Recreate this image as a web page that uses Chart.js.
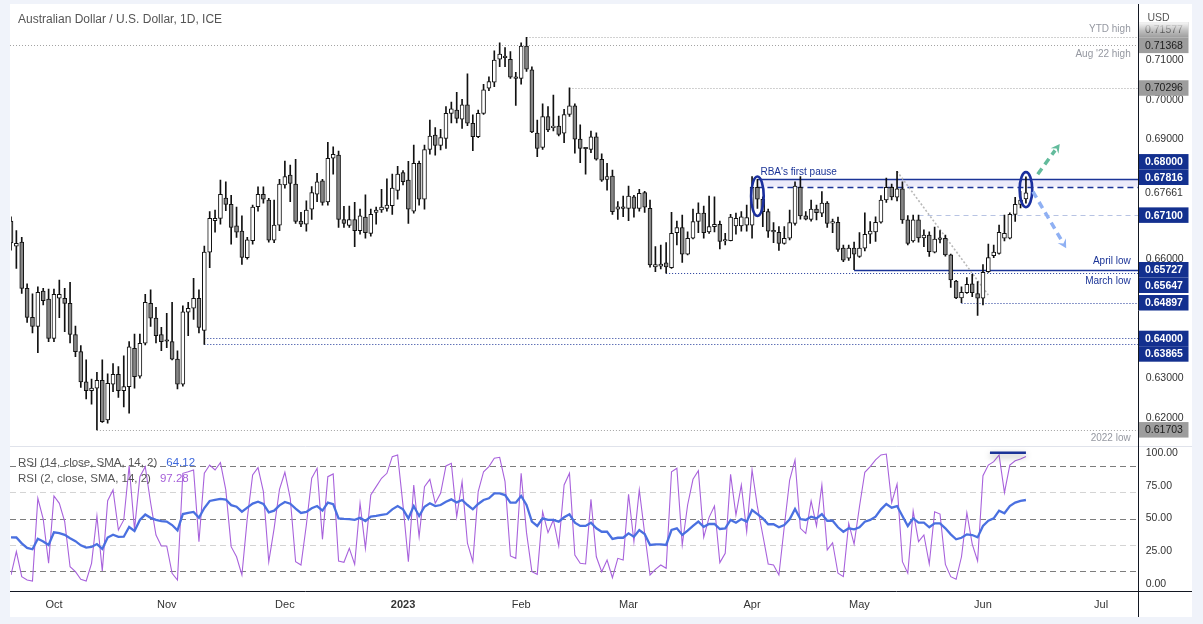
<!DOCTYPE html>
<html>
<head>
<meta charset="utf-8">
<script src="https://cdn.jsdelivr.net/npm/chart.js@4.4.1/dist/chart.umd.min.js"></script>
<style>
html,body{margin:0;padding:0;background:#f0f3fa;}
#wrap{position:relative;width:1203px;height:624px;}
canvas{display:block;}
</style>
</head>
<body>
<div id="wrap"><canvas id="c" width="1203" height="624"></canvas></div>
<script>
// ---------------- DATA ----------------
const openP = [
0.6695,0.6632,0.6642,0.6526,0.6453,0.6430,0.6519,0.6499,0.6400,0.6501,
0.6501,0.6488,0.6410,0.6367,0.6291,0.6269,0.6275,0.6295,0.6195,0.6285,
0.6310,0.6269,0.6279,0.6375,0.6305,0.6388,0.6488,0.6451,0.6410,0.6395,
0.6392,0.6348,0.6285,0.6466,0.6476,0.6501,0.6420,0.6617,0.6696,0.6702,
0.6753,0.6737,0.6683,0.6670,0.6603,0.6646,0.6731,0.6762,0.6748,0.6647,
0.6685,0.6786,0.6811,0.6788,0.6695,0.6687,0.6725,0.6763,0.6796,0.6743,
0.6853,0.6861,0.6699,0.6684,0.6699,0.6671,0.6705,0.6664,0.6717,0.6723,
0.6727,0.6734,0.6772,0.6817,0.6798,0.6720,0.6840,0.6750,0.6875,0.6911,
0.6885,0.6903,0.6966,0.6974,0.6951,0.6987,0.6941,0.6907,0.6966,0.7029,
0.7044,0.7102,0.7110,0.7102,0.7057,0.7054,0.7135,0.7075,0.6916,0.6880,
0.6958,0.6930,0.6934,0.6916,0.6963,0.6985,0.6901,0.6879,0.6875,0.6907,
0.6850,0.6800,0.6808,0.6725,0.6731,0.6727,0.6756,0.6727,0.6767,0.6727,
0.6580,0.6582,0.6590,0.6578,0.6666,0.6679,0.6612,0.6652,0.6694,0.6715,
0.6668,0.6681,0.6687,0.6645,0.6646,0.6683,0.6683,0.6685,0.6685,0.6780,
0.6750,0.6719,0.6670,0.6667,0.6639,0.6652,0.6689,0.6780,0.6708,0.6699,
0.6725,0.6715,0.6740,0.6690,0.6692,0.6627,0.6602,0.6627,0.6606,0.6627,
0.6662,0.6668,0.6692,0.6748,0.6780,0.6755,0.6776,0.6698,0.6645,0.6698,
0.6653,0.6660,0.6617,0.6650,0.6652,0.6610,0.6544,0.6502,0.6515,0.6537,
0.6513,0.6501,0.6568,0.6608,0.6614,0.6652,0.6652,0.6712,0.6737,0.6751];
const highP = [
0.6706,0.6671,0.6654,0.6537,0.6512,0.6530,0.6526,0.6524,0.6524,0.6547,
0.6526,0.6541,0.6431,0.6382,0.6346,0.6298,0.6315,0.6346,0.6311,0.6337,
0.6329,0.6356,0.6392,0.6411,0.6411,0.6511,0.6522,0.6478,0.6428,0.6463,
0.6491,0.6369,0.6482,0.6491,0.6551,0.6522,0.6632,0.6719,0.6723,0.6798,
0.6794,0.6760,0.6730,0.6708,0.6654,0.6735,0.6781,0.6781,0.6752,0.6748,
0.6800,0.6846,0.6836,0.6850,0.6717,0.6746,0.6782,0.6815,0.6800,0.6893,
0.6882,0.6871,0.6732,0.6733,0.6742,0.6725,0.6761,0.6725,0.6730,0.6775,
0.6801,0.6813,0.6833,0.6822,0.6845,0.6886,0.6846,0.6886,0.6949,0.6930,
0.6926,0.6983,0.6994,0.7019,0.7001,0.7065,0.6962,0.6974,0.7039,0.7058,
0.7123,0.7143,0.7131,0.7121,0.7069,0.7143,0.7157,0.7083,0.6949,0.6990,
0.6983,0.7012,0.6959,0.6976,0.7030,0.6990,0.6937,0.6880,0.6921,0.6917,
0.6864,0.6840,0.6823,0.6744,0.6758,0.6783,0.6760,0.6775,0.6770,0.6748,
0.6631,0.6635,0.6641,0.6717,0.6695,0.6710,0.6668,0.6725,0.6741,0.6733,
0.6758,0.6756,0.6695,0.6664,0.6712,0.6715,0.6719,0.6735,0.6807,0.6800,
0.6756,0.6725,0.6691,0.6681,0.6681,0.6723,0.6794,0.6807,0.6719,0.6748,
0.6735,0.6769,0.6744,0.6700,0.6705,0.6635,0.6635,0.6642,0.6666,0.6716,
0.6694,0.6706,0.6759,0.6803,0.6788,0.6820,0.6794,0.6709,0.6710,0.6710,
0.6673,0.6668,0.6680,0.6671,0.6660,0.6612,0.6546,0.6530,0.6553,0.6561,
0.6543,0.6586,0.6637,0.6635,0.6685,0.6710,0.6716,0.6755,0.6770,0.6806];
const lowP = [
0.6622,0.6576,0.6513,0.6440,0.6414,0.6364,0.6484,0.6392,0.6392,0.6452,
0.6417,0.6389,0.6354,0.6277,0.6248,0.6235,0.6170,0.6189,0.6187,0.6266,
0.6252,0.6228,0.6212,0.6275,0.6300,0.6384,0.6430,0.6389,0.6369,0.6377,
0.6346,0.6273,0.6280,0.6407,0.6448,0.6414,0.6385,0.6578,0.6667,0.6687,
0.6721,0.6637,0.6654,0.6586,0.6599,0.6637,0.6720,0.6740,0.6642,0.6641,
0.6671,0.6778,0.6744,0.6689,0.6681,0.6670,0.6699,0.6744,0.6735,0.6735,
0.6813,0.6679,0.6679,0.6679,0.6631,0.6662,0.6652,0.6657,0.6687,0.6717,
0.6720,0.6712,0.6750,0.6786,0.6689,0.6715,0.6735,0.6725,0.6863,0.6861,
0.6874,0.6878,0.6942,0.6942,0.6928,0.6935,0.6872,0.6905,0.6963,0.7023,
0.7033,0.7083,0.7083,0.7054,0.6986,0.7039,0.7071,0.6917,0.6857,0.6875,
0.6920,0.6922,0.6909,0.6892,0.6958,0.6866,0.6842,0.6813,0.6867,0.6848,
0.6795,0.6773,0.6712,0.6699,0.6706,0.6696,0.6705,0.6720,0.6717,0.6579,
0.6568,0.6575,0.6564,0.6576,0.6635,0.6591,0.6610,0.6650,0.6666,0.6652,
0.6664,0.6668,0.6625,0.6635,0.6645,0.6662,0.6670,0.6670,0.6652,0.6727,
0.6681,0.6654,0.6641,0.6621,0.6637,0.6648,0.6685,0.6700,0.6698,0.6695,
0.6698,0.6706,0.6679,0.6666,0.6619,0.6593,0.6596,0.6573,0.6604,0.6620,
0.6639,0.6644,0.6690,0.6742,0.6748,0.6746,0.6689,0.6635,0.6642,0.6642,
0.6631,0.6606,0.6615,0.6640,0.6607,0.6528,0.6500,0.6490,0.6513,0.6505,
0.6458,0.6484,0.6566,0.6603,0.6612,0.6645,0.6650,0.6694,0.6728,0.6740];
const closeP = [
0.6640,0.6639,0.6526,0.6453,0.6430,0.6516,0.6495,0.6400,0.6511,0.6511,
0.6488,0.6410,0.6367,0.6291,0.6269,0.6275,0.6295,0.6191,0.6287,0.6310,
0.6269,0.6279,0.6379,0.6304,0.6388,0.6491,0.6451,0.6407,0.6392,0.6393,
0.6348,0.6285,0.6467,0.6476,0.6501,0.6428,0.6617,0.6702,0.6702,0.6762,
0.6737,0.6679,0.6667,0.6604,0.6648,0.6730,0.6762,0.6750,0.6647,0.6685,
0.6788,0.6807,0.6790,0.6694,0.6687,0.6723,0.6767,0.6794,0.6742,0.6853,
0.6863,0.6699,0.6689,0.6699,0.6671,0.6708,0.6666,0.6712,0.6723,0.6730,
0.6735,0.6778,0.6813,0.6794,0.6725,0.6840,0.6750,0.6875,0.6909,0.6885,
0.6905,0.6966,0.6977,0.6953,0.6987,0.6941,0.6907,0.6966,0.7025,0.7046,
0.7100,0.7115,0.7106,0.7057,0.7054,0.7135,0.7077,0.6919,0.6878,0.6958,
0.6924,0.6934,0.6913,0.6963,0.6985,0.6901,0.6878,0.6877,0.6907,0.6851,
0.6798,0.6807,0.6719,0.6731,0.6727,0.6758,0.6727,0.6765,0.6730,0.6585,
0.6586,0.6587,0.6580,0.6664,0.6679,0.6612,0.6652,0.6694,0.6715,0.6666,
0.6681,0.6687,0.6644,0.6647,0.6705,0.6702,0.6706,0.6704,0.6780,0.6750,
0.6719,0.6670,0.6668,0.6639,0.6652,0.6691,0.6783,0.6708,0.6700,0.6725,
0.6716,0.6740,0.6689,0.6693,0.6624,0.6597,0.6627,0.6612,0.6627,0.6662,
0.6670,0.6692,0.6748,0.6780,0.6756,0.6776,0.6698,0.6639,0.6698,0.6653,
0.6660,0.6618,0.6650,0.6649,0.6610,0.6547,0.6502,0.6516,0.6536,0.6515,
0.6501,0.6566,0.6603,0.6617,0.6667,0.6664,0.6712,0.6737,0.6748,0.6766];
const rsi14 = [
35.6,35.5,31,27.5,26.5,34.5,32.5,29.8,39.4,38.8,
37.5,34.9,32.7,29.5,27.8,28.3,30.5,26.8,35.5,37.6,
36,36.1,43.5,40.5,48.9,53,50.5,49,48,47.6,
45,41,53.4,54.3,55,50.6,58,63.4,64.2,65,
64.5,60.2,59,55.2,58.3,61.4,62.8,61.1,54.7,56,
60,62.6,61.3,57.5,54.2,55,57.8,59.5,56,62.1,
61,50.1,49.7,49.5,48.9,50.5,48.1,51.4,52,52.7,
53.4,57,59.5,57,50.1,59.5,51.9,59,61.6,59.5,
60.3,62.8,64.6,62.3,64.1,60.3,57,61.1,64.1,65.4,
69.2,69.2,67.9,62.1,62.1,67.2,60.3,47.6,44.3,50.1,
48.9,48.9,47.6,50.9,53.2,46.8,44.3,44.3,46.8,42.5,
39.9,39.9,34.4,35.3,35.3,38.7,36.1,41.2,38.2,29.8,
30.3,30.3,29.8,41.2,42.5,37.4,40.7,44.3,47.6,43.7,
45.8,45.8,42,42.5,48.9,46.8,49.6,47.6,56.5,53.4,
50.1,45.6,45.6,43.3,45,49.4,57.3,49.6,48.9,51.4,
50.1,53.4,48.3,48.3,43.3,39.9,42.5,41.7,43.3,47.6,
48.9,51.4,57,61.1,58.3,59.5,51.9,44.3,50.1,46.8,
46.8,43.3,46.3,46.3,42.5,37.9,34.1,35.3,37.9,37.4,
35.6,44.3,48.3,50.1,56,54,59.5,62.1,63.4,64.12];
const rsi2 = [
6.9,24.7,5.6,3,2.3,65.4,49.6,15.8,67.2,61.6,
47.6,13.2,9.4,3.6,2.3,15.8,51.9,9.9,63.6,71.8,
41.2,48.9,90.1,41.7,81.9,89.6,62,37.4,29,29,
8.2,3,84.5,85.7,87,32.3,84.5,90.8,87,92.6,
71.8,28.5,20.8,6.9,50.1,83.2,88.8,70.5,17,42.5,
72.3,85.3,65.4,17,14.5,45,80.7,88.3,34.1,81.9,
84,17.6,16.6,27.2,15,61.6,27.2,67.9,74.3,80.7,
84.5,97.2,98.5,60,17,75.6,36.1,74.3,79.9,61.6,
69.2,90.1,92.1,51.4,78.1,31.1,17,70.5,85.7,89.6,
96,96.7,78.1,21.4,19.6,84.5,39.2,9.4,7.4,55.2,
39.2,48.9,29,75.6,84.5,22.1,15.8,15.3,64.6,20.8,
9.4,18.3,4.8,19.6,18.3,68.5,32.3,71.8,38.7,6.9,
11.2,14.5,12,85.7,88.3,29.8,60.3,79.9,86.5,35.6,
50.9,59.5,16.3,23.4,83.7,52.7,75.6,39.9,87,59,
37.4,15.3,14.5,6.9,43.7,79.4,94.7,42.5,38.7,63.4,
44.3,75.6,26,31.5,8.2,5.6,46.3,30.5,59,85.3,
89.6,94.7,98.5,99.2,62.1,76.3,17,8.2,55.7,32.3,
37.4,15.3,55.2,53.4,15,5.6,3.6,20.8,54.4,30.5,
17.6,82.7,90.8,93.4,98.5,69.7,90.8,94.1,95.4,97.28];

// trading-day categories: Sep 21 2022 onward (weekdays), incl. empty future slots to mid-July 2023
const firstDay = '2022-09-21';
const slotCount = 211;
const labels = [];
(function(){ const d = new Date(firstDay + 'T00:00:00Z');
  while (labels.length < slotCount) { const wd = d.getUTCDay(); if (wd !== 0 && wd !== 6) labels.push(d.toISOString().slice(0,10)); d.setUTCDate(d.getUTCDate()+1); } })();

const monthTicks = {'2022-10-03':'Oct','2022-11-01':'Nov','2022-12-01':'Dec','2023-01-02':'2023','2023-02-01':'Feb','2023-03-01':'Mar','2023-04-03':'Apr','2023-05-01':'May','2023-06-01':'Jun','2023-07-03':'Jul'};
const priceTicks = [0.62, 0.63, 0.66, 0.69, 0.70, 0.71];
const rsiTicks = [0, 25, 50, 75, 100];
const rsiLevels = [{v:90,dark:true},{v:70,dark:false},{v:50,dark:true},{v:30,dark:false},{v:10,dark:true}];

// ------------- annotation definitions -------------
const NAVY = '#1b3497';
const levelLines = [
  {v:0.71577, from:96,  color:'#a3a3a3', dash:[1,2], w:1},
  {v:0.71368, from:0,   color:'#a3a3a3', dash:[1,2], w:1},
  {v:0.70296, from:104, color:'#a3a3a3', dash:[1,2], w:1},
  {v:0.67100, from:169, color:'#b7c3e3', dash:[5,4], w:1},
  {v:0.65727, from:157, color:NAVY, dash:[], w:1.4},
  {v:0.65647, from:122, color:NAVY, dash:[1,2], w:1},
  {v:0.64897, from:177, color:NAVY, dash:[1,2], w:1},
  {v:0.64000, from:36,  color:NAVY, dash:[1,2], w:1},
  {v:0.63865, from:36,  color:NAVY, dash:[1,2], w:1},
  {v:0.61703, from:16,  color:'#a3a3a3', dash:[1,2], w:1}
];
const pauseZone = {top:0.68000, bottom:0.67816, from:139};
const trendLine = {i0:165, v0:0.6820, i1:182, v1:0.6509};
const ellipses = [{i:139, top:0.6807, bottom:0.6708}, {i:189, top:0.6818, bottom:0.6730}];
const arrows = [
  {i0:191.2, v0:0.6813, i1:195.3, v1:0.6889, color:'#63bb9c'},
  {i0:190.3, v0:0.6769, i1:196.5, v1:0.6627, color:'#8fb0f3'}
];
const notes = [
  {t:'YTD high', v:0.71577, dy:-8, color:'#9598a1'},
  {t:"Aug '22 high", v:0.71368, dy:9, color:'#9598a1'},
  {t:"RBA's first pause", v:0.68000, dy:-7, color:NAVY, at:139, dx:3},
  {t:'April low', v:0.65727, dy:-8, color:NAVY},
  {t:'March low', v:0.65647, dy:8, color:NAVY},
  {t:'2022 low', v:0.61703, dy:8, color:'#9598a1'}
];
const badges = [
  {v:0.71577, anchor:0.71368, slot:-1, kind:'fade'},
  {v:0.71368, kind:'gray'},
  {v:0.70296, kind:'gray'},
  {v:0.68000, anchor:0.67661, slot:-2, kind:'navy'},
  {v:0.67816, anchor:0.67661, slot:-1, kind:'navy'},
  {v:0.67661, kind:'plain'},
  {v:0.67100, kind:'navy'},
  {v:0.65727, kind:'navy'},
  {v:0.65647, anchor:0.65727, slot:1, kind:'navy'},
  {v:0.64897, kind:'navy'},
  {v:0.64000, kind:'navy'},
  {v:0.63865, anchor:0.64000, slot:1, kind:'navy'},
  {v:0.61703, kind:'gray'}
];
const rsiMark = {i0:182.3, i1:189, v:100.2};

const FONT = "'Liberation Sans', Arial, sans-serif";
Chart.defaults.font.family = FONT;

function zeroPad(s){ s.paddingLeft = 0; s.paddingRight = 0; s.paddingTop = 0; s.paddingBottom = 0; }

const bgPlugin = {
  id:'bg',
  beforeDraw(chart){
    const c = chart.ctx; c.save();
    c.fillStyle = '#f0f3fa'; c.fillRect(0,0,chart.width,chart.height);
    c.fillStyle = '#ffffff'; c.fillRect(10,4,1182,613);
    c.restore();
  }
};

function hline(c, x0, x1, y, color, w, dash){
  c.save(); c.strokeStyle = color; c.lineWidth = w; c.setLineDash(dash);
  const yy = Math.round(y) + 0.5;
  c.beginPath(); c.moveTo(x0, yy); c.lineTo(x1, yy); c.stroke(); c.restore();
}

const underPlugin = {
  id:'under',
  beforeDatasetsDraw(chart){
    const c = chart.ctx, xs = chart.scales.x, ys = chart.scales.y, y2 = chart.scales.y2;
    const right = chart.chartArea.right, left = chart.chartArea.left;
    // pause zone
    const zx = xs.getPixelForValue(pauseZone.from);
    const zt = ys.getPixelForValue(pauseZone.top), zb = ys.getPixelForValue(pauseZone.bottom);
    c.save(); c.fillStyle = 'rgba(120,110,220,0.14)'; c.fillRect(zx, zt, right - zx, zb - zt); c.restore();
    hline(c, zx, right, zt, NAVY, 1.4, []);
    hline(c, zx, right, zb, NAVY, 1.4, [6,4]);
    for (const l of levelLines){
      const x0 = l.from === 0 ? left - 1 : xs.getPixelForValue(l.from);
      hline(c, x0, right, ys.getPixelForValue(l.v), l.color, l.w, l.dash);
    }
    // trend line
    c.save(); c.strokeStyle = '#b9b9b9'; c.lineWidth = 1.6; c.setLineDash([2,2]);
    c.beginPath(); c.moveTo(xs.getPixelForValue(trendLine.i0), ys.getPixelForValue(trendLine.v0));
    c.lineTo(xs.getPixelForValue(trendLine.i1), ys.getPixelForValue(trendLine.v1)); c.stroke(); c.restore();
    // RSI levels
    for (const r of rsiLevels){
      hline(c, left - 1, right, y2.getPixelForValue(r.v), r.dark ? '#7d7d7d' : '#d4d4d4', 1, [6,4]);
    }
  }
};

function arrow(c, x0, y0, x1, y1, color){
  const ang = Math.atan2(y1 - y0, x1 - x0), head = 10;
  const bx = x1 - Math.cos(ang) * head * 0.8, by = y1 - Math.sin(ang) * head * 0.8;
  c.save(); c.strokeStyle = color; c.fillStyle = color; c.lineWidth = 3.5; c.setLineDash([7,5]);
  c.beginPath(); c.moveTo(x0, y0); c.lineTo(bx, by); c.stroke();
  c.setLineDash([]); c.beginPath();
  c.moveTo(x1, y1);
  c.lineTo(x1 - head*Math.cos(ang - 0.5), y1 - head*Math.sin(ang - 0.5));
  c.lineTo(x1 - head*0.55*Math.cos(ang), y1 - head*0.55*Math.sin(ang));
  c.lineTo(x1 - head*Math.cos(ang + 0.5), y1 - head*Math.sin(ang + 0.5));
  c.closePath(); c.fill(); c.restore();
}

const overPlugin = {
  id:'over',
  afterDatasetsDraw(chart){
    const c = chart.ctx, xs = chart.scales.x, ys = chart.scales.y, y2 = chart.scales.y2;
    const right = chart.chartArea.right;
    // ellipses
    for (const e of ellipses){
      const cx = xs.getPixelForValue(e.i), t = ys.getPixelForValue(e.top), b = ys.getPixelForValue(e.bottom);
      c.save(); c.strokeStyle = '#1a2f9e'; c.lineWidth = 2.6; c.beginPath();
      c.ellipse(cx, (t + b) / 2, 6.3, (b - t) / 2, 0, 0, Math.PI * 2); c.stroke(); c.restore();
    }
    for (const a of arrows){
      arrow(c, xs.getPixelForValue(a.i0), ys.getPixelForValue(a.v0), xs.getPixelForValue(a.i1), ys.getPixelForValue(a.v1), a.color);
    }
    // notes
    c.save(); c.font = '10px ' + FONT; c.textBaseline = 'middle';
    for (const n of notes){
      c.fillStyle = n.color;
      const y = ys.getPixelForValue(n.v) + n.dy;
      if (n.at !== undefined){ c.textAlign = 'left'; c.fillText(n.t, xs.getPixelForValue(n.at) + n.dx, y); }
      else { c.textAlign = 'right'; c.fillText(n.t, right - 8, y); }
    }
    c.restore();
    // rsi mark with shadow
    c.save(); c.strokeStyle = NAVY; c.lineWidth = 2.4;
    c.shadowColor = 'rgba(0,0,0,0.35)'; c.shadowBlur = 6; c.shadowOffsetY = 3;
    const my = y2.getPixelForValue(rsiMark.v);
    c.beginPath(); c.moveTo(xs.getPixelForValue(rsiMark.i0), my); c.lineTo(xs.getPixelForValue(rsiMark.i1), my); c.stroke(); c.restore();
  },
  afterDraw(chart){
    const c = chart.ctx, ys = chart.scales.y, y2 = chart.scales.y2;
    const ca = chart.chartArea;
    // frame lines
    c.save();
    hline(c, 10, 1192, y2.top, '#e0e3eb', 1, []);
    hline(c, 10, 1192, ca.bottom, '#131722', 1, []);
    c.strokeStyle = '#131722'; c.lineWidth = 1;
    const ax = Math.round(ca.right) - 0.5;
    c.beginPath(); c.moveTo(ax, 4); c.lineTo(ax, 617); c.stroke();
    c.restore();
    // badges
    const H = 15.5, bx = ax + 0.5, bw = 49.5;
    c.save(); c.textBaseline = 'middle'; c.textAlign = 'left';
    for (const b of badges){
      const yc = ys.getPixelForValue(b.anchor !== undefined ? b.anchor : b.v) + (b.slot || 0) * H;
      const top = yc - H / 2;
      const txt = b.v.toFixed(5);
      if (b.kind === 'navy'){
        c.fillStyle = '#13308f'; c.fillRect(bx, top, bw, H);
        c.fillStyle = '#ffffff'; c.font = 'bold 10.5px ' + FONT;
      } else if (b.kind === 'gray' || b.kind === 'fade'){
        c.fillStyle = '#9d9d9d'; c.fillRect(bx, top, bw, H);
        c.fillStyle = '#1c1c1c'; c.font = '10.5px ' + FONT;
      } else {
        c.fillStyle = '#ffffff'; c.fillRect(bx, top, bw, H);
        c.fillStyle = '#333333'; c.font = '10.5px ' + FONT;
      }
      c.fillText(txt, bx + 6, yc + 0.5);
      if (b.kind === 'fade'){
        const g = c.createLinearGradient(0, top, 0, top + H);
        g.addColorStop(0, 'rgba(255,255,255,0.95)'); g.addColorStop(0.55, 'rgba(255,255,255,0.35)'); g.addColorStop(1, 'rgba(255,255,255,0)');
        c.fillStyle = g; c.fillRect(bx, top, bw, H);
      }
    }
    c.restore();
    // title / axis unit / legends
    c.save(); c.textBaseline = 'middle'; c.textAlign = 'left';
    c.fillStyle = '#555555'; c.font = '12px ' + FONT;
    c.fillText('Australian Dollar / U.S. Dollar, 1D, ICE', 18, 20);
    c.font = '10.5px ' + FONT; c.fillText('USD', ax + 9, 18);
    c.font = '11.5px ' + FONT;
    const l1 = 'RSI (14, close, SMA, 14, 2)', l2 = 'RSI (2, close, SMA, 14, 2)';
    const ly1 = y2.top + 16.5, ly2 = y2.top + 33;
    c.fillStyle = '#555555'; c.fillText(l1, 18, ly1); c.fillText(l2, 18, ly2);
    c.fillStyle = '#3d68dc'; c.fillText(rsi14[rsi14.length-1].toFixed(2), 18 + c.measureText(l1).width + 9, ly1);
    c.fillStyle = '#a55fd8'; c.fillText(rsi2[rsi2.length-1].toFixed(2), 18 + c.measureText(l2).width + 9, ly2);
    c.restore();
  }
};

const bodyData = openP.map((o, i) => [o, closeP[i]]);
const wickData = lowP.map((l, i) => [l, highP[i]]);

new Chart(document.getElementById('c'), {
  type: 'bar',
  data: {
    labels: labels,
    datasets: [
      {type:'bar', label:'body', data: bodyData, yAxisID:'y', order:0, grouped:false, barThickness:4, minBarLength:1.5,
       borderWidth:1, borderSkipped:false, borderColor:'#111111', clip:0,
       backgroundColor:(ctx) => { const i = ctx.dataIndex; return closeP[i] >= openP[i] ? '#ffffff' : '#868686'; }},
      {type:'bar', label:'wick', data: wickData, yAxisID:'y', order:1, grouped:false, barThickness:1,
       borderWidth:0, backgroundColor:'#111111', clip:0},
      {type:'line', label:'RSI 14', data: rsi14, yAxisID:'y2', order:2, borderColor:'#4a70e0', borderWidth:2.3,
       pointRadius:0, tension:0, fill:false, clip:0},
      {type:'line', label:'RSI 2', data: rsi2, yAxisID:'y2', order:3, borderColor:'#a862dc', borderWidth:1.1,
       pointRadius:0, tension:0, fill:false, clip:0}
    ]
  },
  options: {
    responsive:false, maintainAspectRatio:false, animation:false,
    layout:{padding:{left:11, right:11, top:5, bottom:7}},
    plugins:{legend:{display:false}, tooltip:{enabled:false}},
    events:[],
    scales:{
      x:{type:'category', offset:false, grid:{display:false, drawTicks:false}, border:{display:false},
        ticks:{autoSkip:false, maxRotation:0, minRotation:0, padding:7, color:'#333333',
          font:(ctx) => ({size:11, family:FONT, weight:(labels[ctx.index] === '2023-01-02') ? 'bold' : 'normal'}),
          callback:(v, i) => monthTicks[labels[i]] || ''},
        afterFit:(s) => { s.height = 26; zeroPad(s); }},
      y:{type:'linear', position:'right', stack:'pane', stackWeight:441, min:0.612961, max:0.723827,
        grid:{display:false, drawTicks:false}, border:{display:false},
        afterBuildTicks:(s) => { s.ticks = priceTicks.map(v => ({value:v})); },
        ticks:{padding:7, color:'#333333', font:{size:10.5, family:FONT}, callback:(v) => Number(v).toFixed(5)},
        afterFit:(s) => { s.width = 53.3; zeroPad(s); }},
      y2:{type:'linear', position:'right', stack:'pane', stackWeight:145, min:-5.34, max:105.34,
        grid:{display:false, drawTicks:false}, border:{display:false},
        afterBuildTicks:(s) => { s.ticks = rsiTicks.map(v => ({value:v})); },
        ticks:{padding:7, color:'#333333', font:{size:10.5, family:FONT}, callback:(v) => Number(v).toFixed(2)},
        afterFit:(s) => { s.width = 53.3; zeroPad(s); }}
    }
  },
  plugins:[bgPlugin, underPlugin, overPlugin]
});
</script>
</body>
</html>
